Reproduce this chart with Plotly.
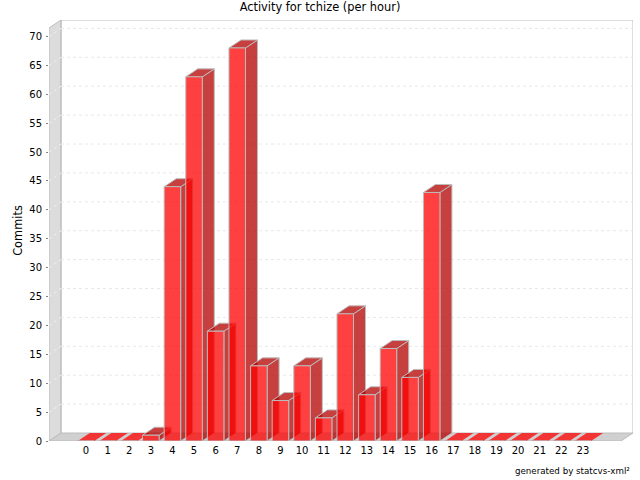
import plotly.graph_objects as go

hours = list(range(24))
commits = [0, 0, 0, 1, 44, 63, 19, 68, 13, 7, 13, 4, 22, 8, 16, 11, 43, 0, 0, 0, 0, 0, 0, 0]
y_ticks = list(range(0, 75, 5))
title = "Activity for tchize (per hour)"
y_title = "Commits"
footer = "generated by statcvs-xml²"

FONT = "DejaVu Sans"
X_MIN, X_MAX = -1.713, 25.32
Y_MAX = 72.84
DX, DY = 0.556, 1.384   # 3D depth in axis units
FRONT_TOP = 71.45
BAR_W = 0.764
EDGE = "#bcbcbc"
FRONT = "rgba(255,0,0,0.75)"
DARK = "rgba(180,0,0,0.75)"


def poly(points):
    return "M" + " L".join(f"{x},{y}" for x, y in points) + " Z"


shapes = [
    dict(type="path", path=poly([(X_MIN, 0), (X_MIN + DX, DY), (X_MIN + DX, Y_MAX), (X_MIN, FRONT_TOP)]),
         fillcolor="#dcdcdc", line=dict(color=EDGE, width=1), layer="below", xref="x", yref="y"),
    dict(type="path", path=poly([(X_MIN, 0), (X_MIN + DX, DY), (X_MAX, DY), (X_MAX - DX, 0)]),
         fillcolor="#d0d0d0", line=dict(color=EDGE, width=1), layer="below", xref="x", yref="y"),
    dict(type="path", path=f"M{X_MIN + DX},{DY} L{X_MIN + DX},{Y_MAX} L{X_MAX},{Y_MAX} L{X_MAX},{DY}",
         line=dict(color=EDGE, width=1), layer="below", xref="x", yref="y"),
]
for v in y_ticks[1:]:
    shapes.append(dict(type="line", x0=X_MIN + DX, x1=X_MAX, y0=v + DY, y1=v + DY, xref="x", yref="y",
                       line=dict(color="#e8e8e8", width=1, dash="3px,3px"), layer="below"))
    shapes.append(dict(type="line", x0=X_MIN, x1=X_MIN + DX, y0=v, y1=v + DY, xref="x", yref="y",
                       line=dict(color="#f0f0f0", width=1, dash="3px,3px"), layer="below"))

fig = go.Figure()


def face(points, color, edge=True):
    xs = [p[0] for p in points] + [points[0][0]]
    ys = [p[1] for p in points] + [points[0][1]]
    fig.add_trace(go.Scatter(x=xs, y=ys, mode="lines", fill="toself", fillcolor=color,
                             line=dict(color=EDGE, width=1) if edge else dict(width=0),
                             hoverinfo="skip", showlegend=False, xaxis="x", yaxis="y"))


for h, v in zip(hours, commits):
    l, r = h - BAR_W / 2, h + BAR_W / 2
    if v > 0:
        face([(r, 0), (r + DX, DY), (r + DX, v + DY), (r, v)], DARK)
        face([(l, v), (r, v), (r + DX, v + DY), (l + DX, v + DY)], DARK)
    else:
        face([(l, 0), (r, 0), (r + DX, DY), (l + DX, DY)], FRONT, edge=False)

fig.add_trace(go.Bar(x=hours, y=commits, width=BAR_W, marker=dict(color=FRONT, line=dict(color=EDGE, width=1)),
                     hoverinfo="skip", showlegend=False, xaxis="x2", yaxis="y2"))

fig.update_layout(
    width=640, height=480, autosize=False,
    margin=dict(l=49, r=7, t=20, b=39, autoexpand=False),
    paper_bgcolor="white", plot_bgcolor="white",
    font=dict(family=FONT, size=10, color="#000000"),
    title=dict(text=title, x=0.5, xref="container", xanchor="center", y=1 - 7 / 480, yref="container", yanchor="middle",
               font=dict(family=FONT, size=11.4, color="#000000")),
    xaxis=dict(range=[X_MIN, X_MAX], tickmode="array", tickvals=hours, ticktext=[str(h) for h in hours],
               showgrid=False, zeroline=False, showline=False, ticks="", tickfont=dict(size=10), tickangle=0,
               ticklabelstandoff=2),
    yaxis=dict(range=[0, Y_MAX], tickmode="array", tickvals=y_ticks, ticktext=[str(v) for v in y_ticks],
               showgrid=False, zeroline=False, showline=False, ticks="outside", ticklen=2, tickcolor="#808080",
               tickfont=dict(size=10), ticklabelstandoff=2,
               title=dict(text=y_title, font=dict(size=11.4), standoff=4)),
    xaxis2=dict(range=[X_MIN, X_MAX], overlaying="x", visible=False),
    yaxis2=dict(range=[0, Y_MAX], overlaying="y", visible=False),
    shapes=shapes,
    annotations=[dict(text=footer, xref="paper", yref="paper", x=(632 - 49) / 584, y=(441 - 471) / 421,
                      xanchor="right", yanchor="middle", showarrow=False, font=dict(family=FONT, size=8.7))],
)

fig.write_html("out.html", config=dict(displayModeBar=False), post_script="document.body.style.margin='0';")
